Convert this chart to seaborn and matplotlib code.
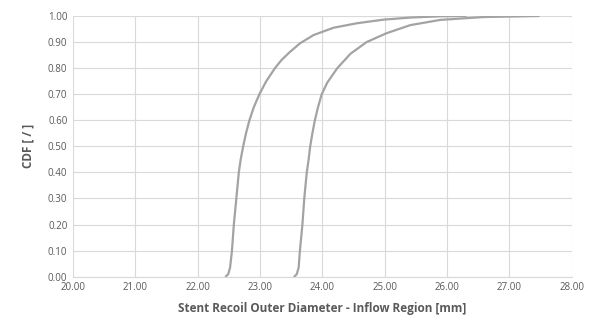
import matplotlib
matplotlib.use("Agg")
import matplotlib.pyplot as plt
import seaborn as sns
import pandas as pd

# Curve A (left)
diam_a = [22.45, 22.49, 22.52, 22.55, 22.58, 22.62, 22.66, 22.69, 22.73, 22.775, 22.83, 22.90,
          22.99, 23.10, 23.24, 23.34, 23.47, 23.64, 23.86, 24.18, 24.55, 24.98, 25.41, 25.90, 26.30]
cdf_a = [0.00, 0.01, 0.035, 0.10, 0.20, 0.30, 0.40, 0.45, 0.50, 0.55, 0.60, 0.65,
         0.70, 0.75, 0.80, 0.83, 0.86, 0.895, 0.927, 0.955, 0.972, 0.986, 0.994, 0.999, 1.00]

# Curve B (right)
diam_b = [23.55, 23.59, 23.62, 23.64, 23.68, 23.71, 23.75, 23.78, 23.805, 23.84, 23.88, 23.93,
          23.99, 24.08, 24.24, 24.45, 24.71, 25.03, 25.41, 25.89, 26.58, 27.47]
cdf_b = [0.00, 0.01, 0.035, 0.10, 0.20, 0.30, 0.40, 0.45, 0.50, 0.55, 0.60, 0.65,
         0.70, 0.745, 0.80, 0.855, 0.90, 0.934, 0.965, 0.985, 0.996, 1.00]

x_ticks = [20, 21, 22, 23, 24, 25, 26, 27, 28]
y_ticks = [0.0, 0.1, 0.2, 0.3, 0.4, 0.5, 0.6, 0.7, 0.8, 0.9, 1.0]

sns.set_theme(style="white")
plt.rcParams['font.family'] = ['Open Sans', 'DejaVu Sans']

fig = plt.figure(figsize=(5.93, 3.22), dpi=100)
ax = fig.add_axes([0.1231, 0.1407, 0.8410, 0.8096])

line_color = "#A3A3A3"
df_a = pd.DataFrame({"x": diam_a, "y": cdf_a})
df_b = pd.DataFrame({"x": diam_b, "y": cdf_b})
sns.lineplot(data=df_a, x="x", y="y", ax=ax, sort=False, color=line_color, linewidth=1.6)
sns.lineplot(data=df_b, x="x", y="y", ax=ax, sort=False, color=line_color, linewidth=1.6)

ax.set_xlim(20, 28)
ax.set_ylim(0, 1)
ax.set_xticks(x_ticks)
ax.set_yticks(y_ticks)
ax.set_xticklabels([f"{v:.2f}" for v in x_ticks])
ax.set_yticklabels([f"{v:.2f}" for v in y_ticks])
ax.tick_params(axis="both", labelsize=7, colors="#595959", length=0, pad=4)
ax.grid(True, color="#D9D9D9", linewidth=0.8)
ax.set_axisbelow(True)
for s in ["top", "right", "left"]:
    ax.spines[s].set_visible(False)
ax.spines["bottom"].set_color("#D9D9D9")
ax.spines["bottom"].set_linewidth(0.8)

ax.set_xlabel("Stent Recoil Outer Diameter - Inflow Region [mm]", fontsize=8.5,
              fontweight="bold", color="#595959", labelpad=6)
ax.set_ylabel("CDF [ / ]", fontsize=8.5, fontweight="bold", color="#595959", labelpad=10)

fig.savefig("out.png", dpi=100)
